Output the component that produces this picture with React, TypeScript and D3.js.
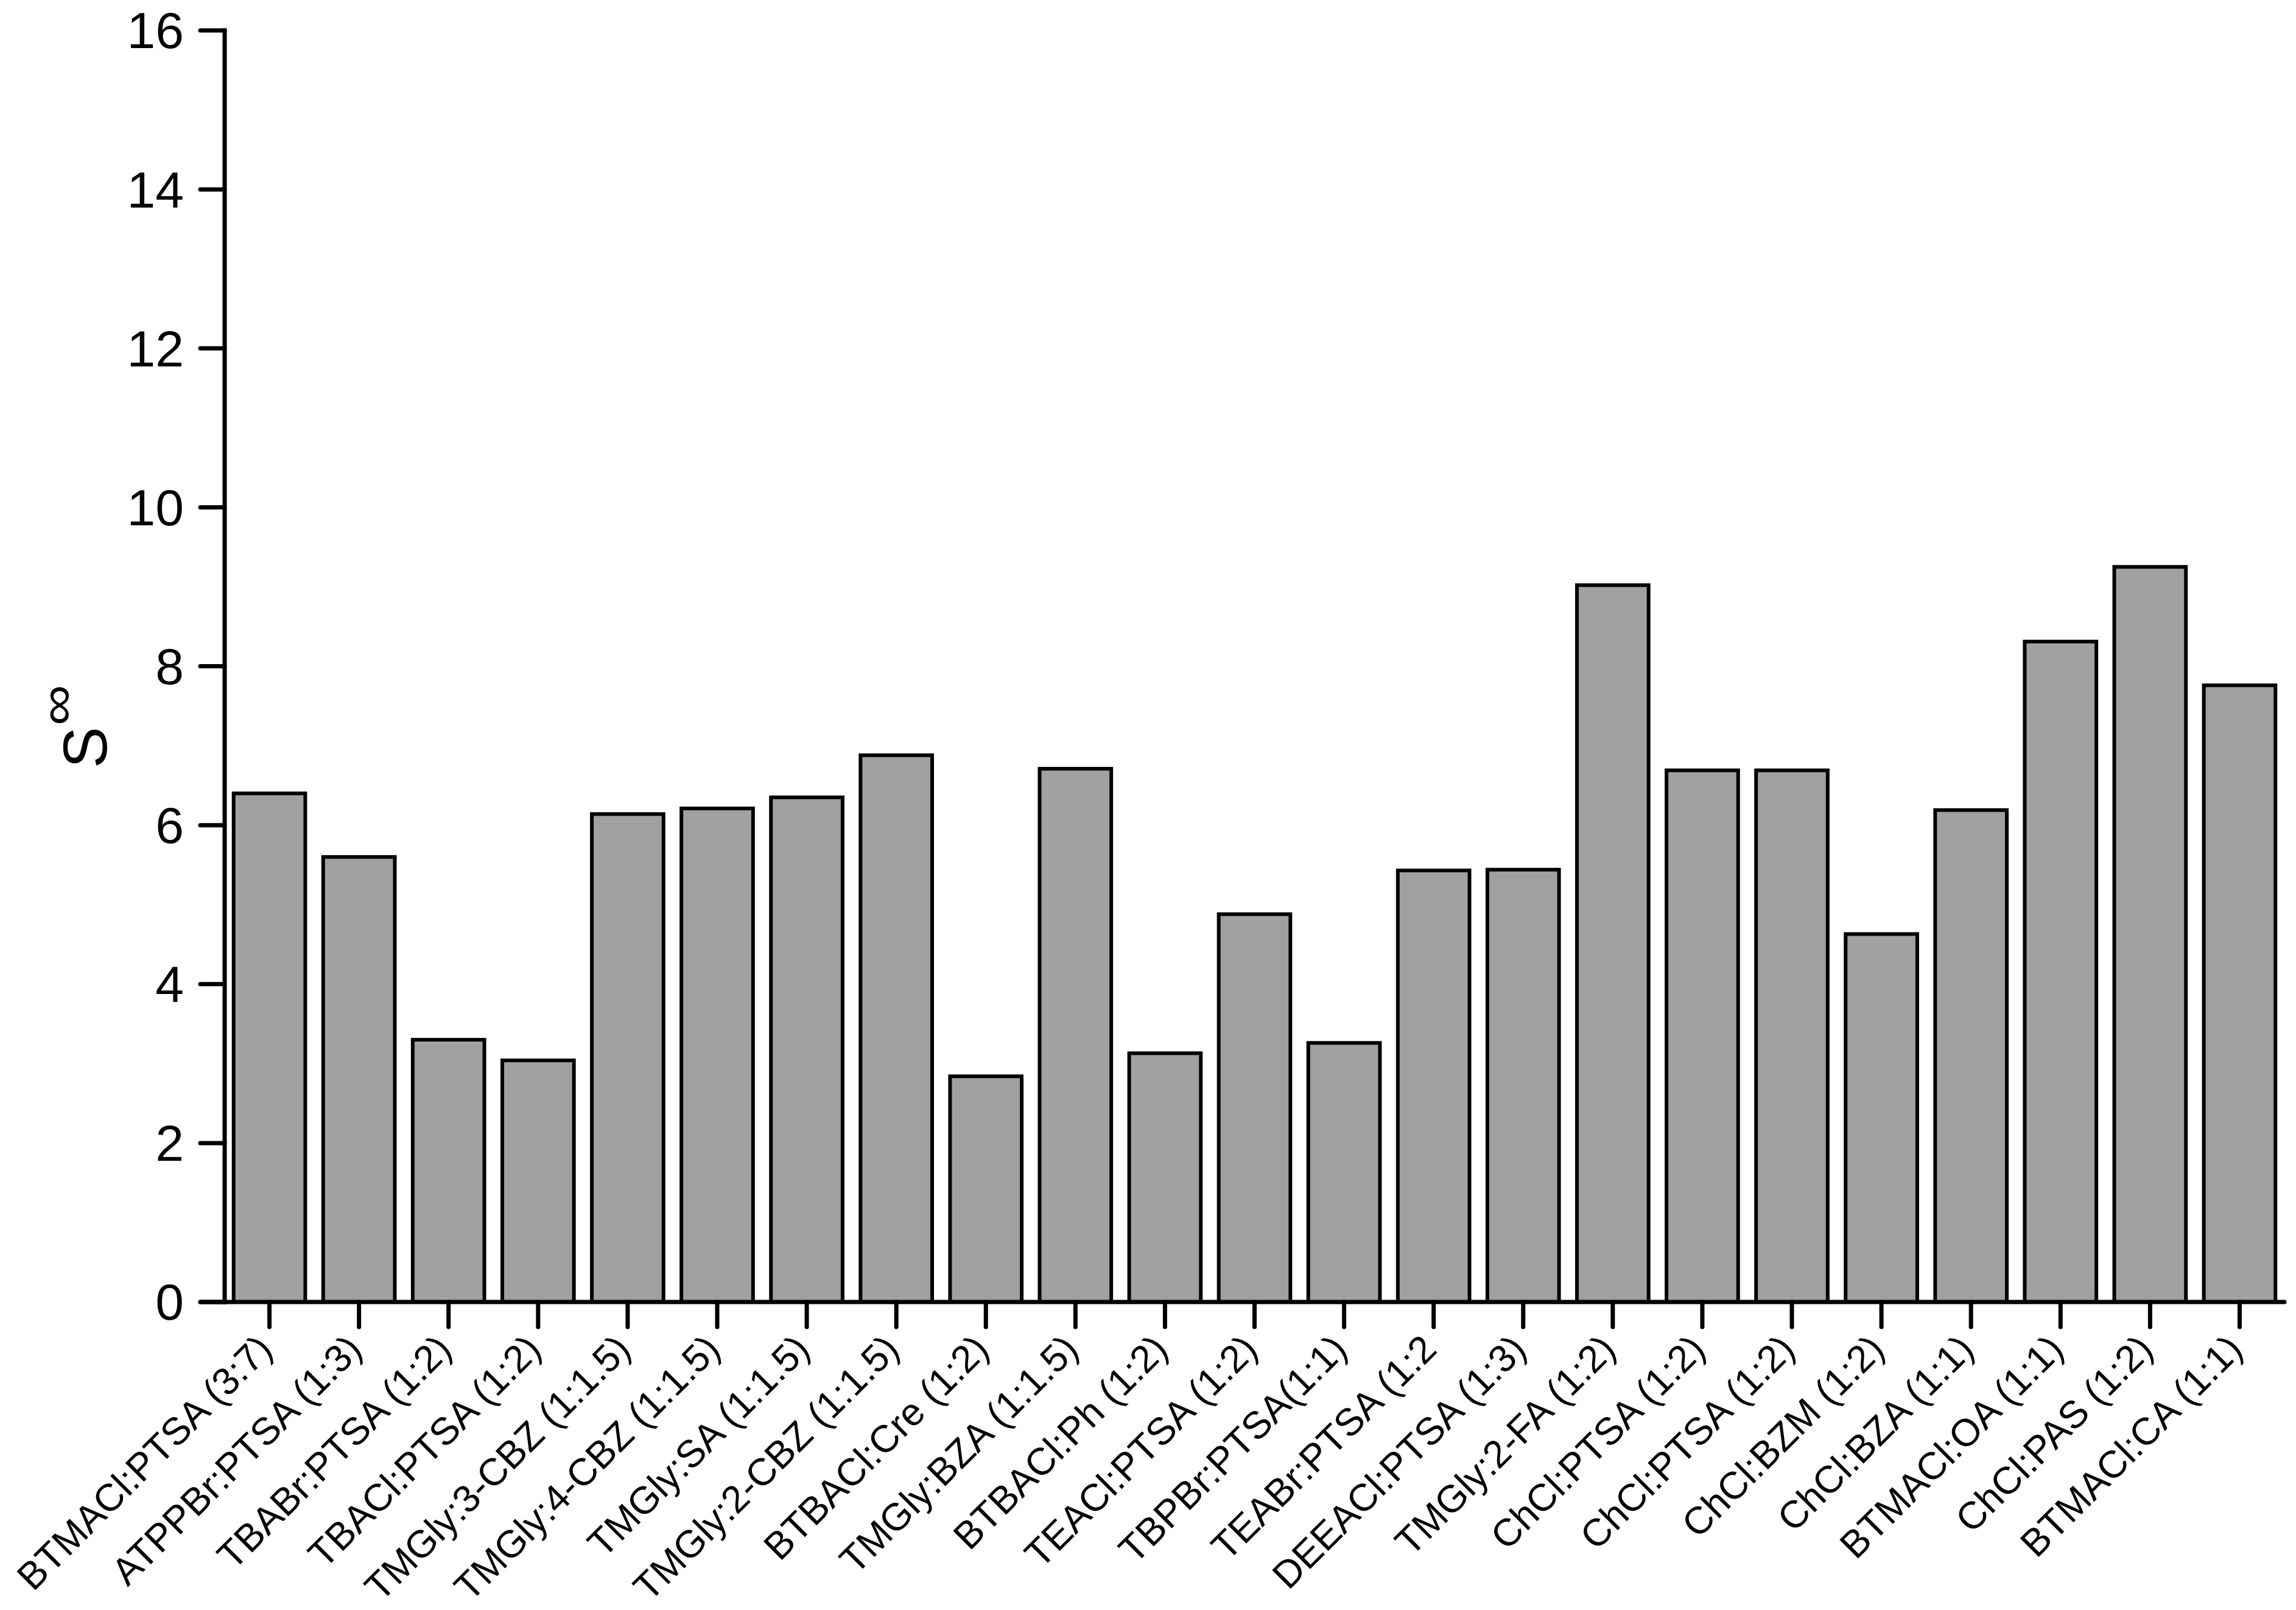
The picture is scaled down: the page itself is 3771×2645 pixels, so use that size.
import React from "react";
import * as d3 from "d3";

const categories: string[] = [
  "BTMACl:PTSA (3:7)",
  "ATPPBr:PTSA (1:3)",
  "TBABr:PTSA (1:2)",
  "TBACl:PTSA (1:2)",
  "TMGly:3-CBZ (1:1.5)",
  "TMGly:4-CBZ (1:1.5)",
  "TMGly:SA (1:1.5)",
  "TMGly:2-CBZ (1:1.5)",
  "BTBACl:Cre (1:2)",
  "TMGly:BZA (1:1.5)",
  "BTBACl:Ph (1:2)",
  "TEACl:PTSA (1:2)",
  "TBPBr:PTSA(1:1)",
  "TEABr:PTSA (1:2",
  "DEEACl:PTSA (1:3)",
  "TMGly:2-FA (1:2)",
  "ChCl:PTSA (1:2)",
  "ChCl:PTSA (1:2)",
  "ChCl:BZM (1:2)",
  "ChCl:BZA (1:1)",
  "BTMACl:OA (1:1)",
  "ChCl:PAS (1:2)",
  "BTMACl:CA (1:1)",
];

const values: number[] = [
  6.4, 5.6, 3.3, 3.04, 6.14, 6.21, 6.35, 6.88, 2.84, 6.71, 3.13, 4.88, 3.26,
  5.43, 5.44, 9.02, 6.69, 6.69, 4.63, 6.19, 8.31, 9.25, 7.76,
];

const yTicks: number[] = [0, 2, 4, 6, 8, 10, 12, 14, 16];

const W = 3771;
const H = 2645;
const X0 = 369;
const X1 = 3752;
const Y0 = 2139;
const Y1 = 50;
const FONT = "'Liberation Sans', Arial, Helvetica, sans-serif";

export default function App() {
  const x = d3
    .scaleBand<number>()
    .domain(d3.range(categories.length))
    .range([X0, X1])
    .paddingInner(0.2)
    .paddingOuter(0.1);
  const y = d3.scaleLinear().domain([0, 16]).range([Y0, Y1]);

  return (
    <svg
      width={W}
      height={H}
      viewBox={`0 0 ${W} ${H}`}
      style={{ position: "absolute", left: 0, top: 0, background: "#fff" }}
    >
      <rect x={0} y={0} width={W} height={H} fill="#fff" />
      {/* bars */}
      {values.map((v, i) => (
        <rect
          key={"b" + i}
          x={x(i)!}
          y={y(v)}
          width={x.bandwidth()}
          height={y(0) - y(v)}
          fill="#a0a0a0"
          stroke="#000"
          strokeWidth={6}
        />
      ))}
      {/* y axis */}
      <line x1={X0} x2={X0} y1={y(16)} y2={y(0)} stroke="#000" strokeWidth={7} strokeLinecap="square" />
      {yTicks.map((t) => (
        <g key={"yt" + t}>
          <line
            x1={X0 - 40}
            x2={X0}
            y1={y(t)}
            y2={y(t)}
            stroke="#000"
            strokeWidth={7}
            strokeLinecap="round"
          />
          <text
            x={302}
            y={y(t)}
            dy="0.35em"
            textAnchor="end"
            fontFamily={FONT}
            fontSize={84}
            fill="#000"
          >
            {t}
          </text>
        </g>
      ))}
      {/* x axis */}
      <line x1={X0 - 40} x2={X1} y1={Y0} y2={Y0} stroke="#000" strokeWidth={7} strokeLinecap="round" />
      {categories.map((c, i) => {
        const cx = x(i)! + x.bandwidth() / 2;
        return (
          <g key={"xt" + i}>
            <line
              x1={cx}
              x2={cx}
              y1={Y0}
              y2={Y0 + 41}
              stroke="#000"
              strokeWidth={7}
              strokeLinecap="round"
            />
            <text
              transform={`translate(${cx + 8},${2220}) rotate(-45)`}
              textAnchor="end"
              fontFamily={FONT}
              fontSize={63}
              fill="#000"
            >
              {c}
            </text>
          </g>
        );
      })}
      {/* y axis title */}
      <g transform="translate(175,1262) rotate(-90)">
        <text x={0} y={0} fontFamily={FONT} fontSize={102} fill="#000">
          S
        </text>
        <text
          x={70}
          y={-54}
          fontFamily={FONT}
          fontSize={80}
          fill="#000"
          textLength={67}
          lengthAdjust="spacingAndGlyphs"
        >
          ∞
        </text>
      </g>
    </svg>
  );
}
